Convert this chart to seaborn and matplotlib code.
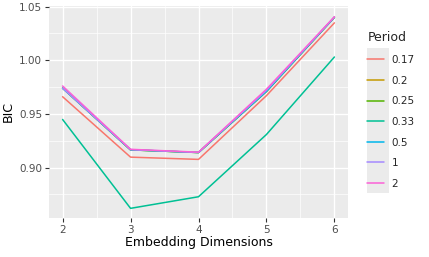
import numpy as np
import pandas as pd
import matplotlib
matplotlib.use("Agg")
import matplotlib.pyplot as plt
import seaborn as sns
from matplotlib.patches import Rectangle

dims = [2, 3, 4, 5, 6]
periods = ["0.17", "0.2", "0.25", "0.33", "0.5", "1", "2"]
bic_017 = [0.966, 0.9097, 0.9076, 0.967, 1.0348]
bic_020 = [0.974, 0.9165, 0.9140, 0.971, 1.0400]
bic_025 = [0.974, 0.9165, 0.9140, 0.971, 1.0400]
bic_033 = [0.9448, 0.862, 0.8728, 0.9308, 1.003]
bic_050 = [0.974, 0.9165, 0.9140, 0.971, 1.0400]
bic_1 = [0.974, 0.9167, 0.9141, 0.972, 1.0402]
bic_2 = [0.976, 0.9170, 0.9143, 0.973, 1.0405]
colors = ["#F8766D", "#C49A00", "#53B400", "#00C094", "#00B6EB", "#A58AFF", "#FB61D7"]

series = [bic_017, bic_020, bic_025, bic_033, bic_050, bic_1, bic_2]
rows = []
for p, vals in zip(periods, series):
    for d, v in zip(dims, vals):
        rows.append({"dim": d, "BIC": v, "Period": p})
df = pd.DataFrame(rows)

sns.set_theme(style="darkgrid")
plt.rcParams["font.family"] = ["DejaVu Sans"]
fig = plt.figure(figsize=(4.29, 2.57), dpi=100)
ax = fig.add_axes([49 / 429, 1 - 218 / 257, (348 - 49) / 429, (218 - 6) / 257])
ax.set_facecolor("#EBEBEB")

sns.lineplot(data=df, x="dim", y="BIC", hue="Period", hue_order=periods,
             palette=colors, linewidth=1.1, ax=ax, legend=True)

ax.set_xlim(1.8, 6.2)
ax.set_ylim(0.853, 1.0505)
ax.set_xticks(dims)
ax.set_xticklabels([str(d) for d in dims])
ax.set_yticks([0.90, 0.95, 1.00, 1.05])
ax.set_yticklabels(["0.90", "0.95", "1.00", "1.05"])
ax.set_xticks([2.5, 3.5, 4.5, 5.5], minor=True)
ax.set_yticks([0.875, 0.925, 0.975, 1.025], minor=True)
ax.grid(which="major", color="white", linewidth=1.0)
ax.grid(which="minor", color="white", linewidth=0.5)
for s in ax.spines.values():
    s.set_visible(False)
ax.tick_params(axis="both", which="major", length=3, width=0.8, color="#333333",
               labelsize=7.5, labelcolor="#4D4D4D", pad=2, bottom=True, left=True)
ax.tick_params(axis="both", which="minor", length=0)
ax.set_xlabel("Embedding Dimensions", fontsize=9, color="black", labelpad=1)
ax.set_ylabel("BIC", fontsize=9, color="black", labelpad=3)

handles, labels = ax.get_legend_handles_labels()
ax.get_legend().remove()
fig.patches.append(Rectangle((367 / 429, 1 - 193 / 257), 22 / 429, 145 / 257,
                             transform=fig.transFigure, facecolor="#EBEBEB",
                             edgecolor="none", zorder=0))
leg = fig.legend(handles, labels, title="Period", loc="upper left",
                 bbox_to_anchor=(358 / 429, 1 - 22 / 257), frameon=False,
                 fontsize=7.5, title_fontsize=9, handlelength=1.6,
                 handletextpad=0.7, labelspacing=1.02, alignment="left")
for line in leg.get_lines():
    line.set_linewidth(1.1)

fig.savefig("out.png", dpi=100)
